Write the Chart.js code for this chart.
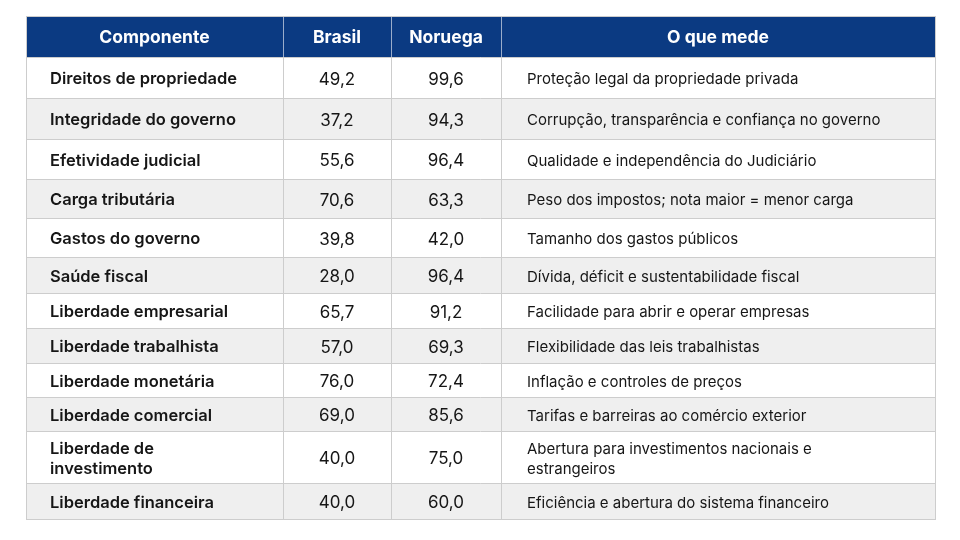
<!DOCTYPE html>
<html>
<head>
<meta charset="utf-8">
<script src="https://cdn.jsdelivr.net/npm/chart.js@4.4.1/dist/chart.umd.min.js"></script>
<style>
  html, body { margin: 0; padding: 0; background: #ffffff; }
  #wrap { width: 960px; height: 540px; }
</style>
</head>
<body>
<div id="wrap"><canvas id="tableChart"></canvas></div>
<script>
// table content
const headers = ["Componente", "Brasil", "Noruega", "O que mede"];
const components = [
    "Direitos de propriedade",
    "Integridade do governo",
    "Efetividade judicial",
    "Carga tributária",
    "Gastos do governo",
    "Saúde fiscal",
    "Liberdade empresarial",
    "Liberdade trabalhista",
    "Liberdade monetária",
    "Liberdade comercial",
    "Liberdade de\ninvestimento",
    "Liberdade financeira",
];
const brasil = [49.2, 37.2, 55.6, 70.6, 39.8, 28.0, 65.7, 57.0, 76.0, 69.0, 40.0, 40.0];
const noruega = [99.6, 94.3, 96.4, 63.3, 42.0, 96.4, 91.2, 69.3, 72.4, 85.6, 75.0, 60.0];
const descriptions = [
    "Proteção legal da propriedade privada",
    "Corrupção, transparência e confiança no governo",
    "Qualidade e independência do Judiciário",
    "Peso dos impostos; nota maior = menor carga",
    "Tamanho dos gastos públicos",
    "Dívida, déficit e sustentabilidade fiscal",
    "Facilidade para abrir e operar empresas",
    "Flexibilidade das leis trabalhistas",
    "Inflação e controles de preços",
    "Tarifas e barreiras ao comércio exterior",
    "Abertura para investimentos nacionais e\nestrangeiros",
    "Eficiência e abertura do sistema financeiro",
];

// layout (scale units), header row first
const colWidths = [257, 108, 110, 434];
const rowHeights = [41, 41, 41, 40, 39, 39, 36, 35, 35, 34, 34, 52, 36];

const NAVY = "#0b3a82";
const STRIPE = "#efefef";
const GRID = "#cdcdcd";
const INK = "#161616";

const fmt = v => v.toFixed(1).replace(".", ",");

const colEdges = [0];
colWidths.forEach(w => colEdges.push(colEdges[colEdges.length - 1] + w));
const rowEdges = [0];
rowHeights.forEach(h => rowEdges.push(rowEdges[rowEdges.length - 1] + h));

function drawLines(ctx, text, x, yMid, lineGap) {
    const lines = text.split("\n");
    const start = yMid - (lines.length - 1) * lineGap / 2;
    lines.forEach((l, i) => ctx.fillText(l, x, start + i * lineGap));
}

const tablePlugin = {
    id: "tablePlugin",
    beforeDatasetsDraw(chart) {
        const { ctx, scales: { x, y } } = chart;
        const px = v => x.getPixelForValue(v);
        const py = v => y.getPixelForValue(v);
        const left = px(0), right = px(colEdges[colEdges.length - 1]);

        ctx.save();
        // row backgrounds
        rowHeights.forEach((h, r) => {
            const top = py(rowEdges[r]), bot = py(rowEdges[r + 1]);
            ctx.fillStyle = r === 0 ? NAVY : (r % 2 === 0 ? STRIPE : "#ffffff");
            ctx.fillRect(left, top, right - left, bot - top);
        });

        // horizontal lines
        ctx.strokeStyle = GRID;
        ctx.lineWidth = 1;
        for (let r = 1; r < rowEdges.length; r++) {
            const yy = Math.round(py(rowEdges[r])) + 0.5;
            ctx.beginPath();
            ctx.moveTo(left, yy);
            ctx.lineTo(right, yy);
            ctx.stroke();
        }
        // vertical lines
        colEdges.forEach((c, i) => {
            const xx = Math.round(px(c)) + 0.5;
            // header part
            ctx.strokeStyle = (i === 0 || i === colEdges.length - 1) ? NAVY : "#9aaccb";
            ctx.beginPath();
            ctx.moveTo(xx, py(rowEdges[0]));
            ctx.lineTo(xx, py(rowEdges[1]));
            ctx.stroke();
            ctx.strokeStyle = GRID;
            ctx.beginPath();
            ctx.moveTo(xx, py(rowEdges[1]));
            ctx.lineTo(xx, py(rowEdges[rowEdges.length - 1]));
            ctx.stroke();
        });

        ctx.textBaseline = "middle";
        // header text
        ctx.fillStyle = "#ffffff";
        ctx.font = "700 17.5px Inter, 'Noto Sans', sans-serif";
        ctx.textAlign = "center";
        headers.forEach((h, i) => {
            const cx = px((colEdges[i] + colEdges[i + 1]) / 2);
            ctx.fillText(h, cx, py(rowHeights[0] / 2) + 1);
        });

        // body
        components.forEach((name, r) => {
            const yMid = py((rowEdges[r + 1] + rowEdges[r + 2]) / 2) + 2;
            ctx.fillStyle = INK;

            ctx.textAlign = "left";
            ctx.font = "600 16.5px Inter, 'Noto Sans', sans-serif";
            drawLines(ctx, name, px(colEdges[0] + 24), yMid, 20);

            ctx.textAlign = "center";
            ctx.font = "400 17px Inter, 'Noto Sans', sans-serif";
            ctx.fillText(fmt(brasil[r]), px((colEdges[1] + colEdges[2]) / 2), yMid);
            ctx.fillText(fmt(noruega[r]), px((colEdges[2] + colEdges[3]) / 2), yMid);

            ctx.textAlign = "left";
            ctx.font = "400 15px Inter, 'Noto Sans', sans-serif";
            drawLines(ctx, descriptions[r], px(colEdges[3] + 26), yMid, 20);
        });

        // outer border
        ctx.strokeStyle = GRID;
        ctx.strokeRect(Math.round(left) + 0.5, Math.round(py(0)) + 0.5,
            Math.round(right - left), Math.round(py(rowEdges[rowEdges.length - 1]) - py(0)));
        ctx.restore();
    },
};

new Chart(document.getElementById("tableChart"), {
    type: "scatter",
    data: { datasets: [] },
    options: {
        responsive: true,
        maintainAspectRatio: false,
        animation: false,
        layout: { padding: { left: 26, right: 25, top: 16, bottom: 21 } },
        plugins: { legend: { display: false }, tooltip: { enabled: false } },
        scales: {
            x: { type: "linear", display: false, min: 0, max: colEdges[colEdges.length - 1] },
            y: { type: "linear", display: false, reverse: true, min: 0, max: rowEdges[rowEdges.length - 1] },
        },
    },
    plugins: [tablePlugin],
});
</script>
</body>
</html>
